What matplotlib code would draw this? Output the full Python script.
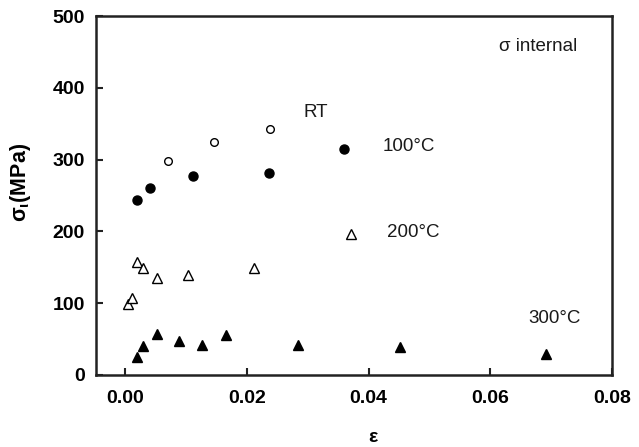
import matplotlib
matplotlib.use("Agg")
import matplotlib.pyplot as plt
from matplotlib import font_manager

names = {f.name for f in font_manager.fontManager.ttflist}
tick_font = 'Liberation Sans Narrow' if 'Liberation Sans Narrow' in names else 'Liberation Sans'
text_font = 'Liberation Sans'

# Data
rt_eps = [0.0071, 0.0146, 0.0238]
rt_sig = [298, 324, 343]

c100_eps = [0.0019, 0.0041, 0.0112, 0.0237, 0.0360]
c100_sig = [244, 261, 277, 282, 315]

c200_eps = [0.0004, 0.0011, 0.0020, 0.0030, 0.0052, 0.0103, 0.0212, 0.0371]
c200_sig = [99, 107, 158, 149, 135, 139, 149, 197]

c300_eps = [0.0019, 0.0030, 0.0052, 0.0088, 0.0126, 0.0165, 0.0284, 0.0452, 0.0692]
c300_sig = [25, 41, 57, 48, 42, 56, 42, 39, 29]

labels = ["RT", "100°C", "200°C", "300°C"]
xticks = [0.00, 0.02, 0.04, 0.06, 0.08]
yticks = [0, 100, 200, 300, 400, 500]

fig = plt.figure(figsize=(6.39, 4.47), dpi=100)
ax = fig.add_axes([0.1502, 0.1611, 0.8075, 0.8031])

ax.plot(rt_eps, rt_sig, 'o', ms=5.5, mfc='white', mec='black', mew=1.0, ls='none')
ax.plot(c100_eps, c100_sig, 'o', ms=6.5, mfc='black', mec='black', ls='none')
ax.plot(c200_eps, c200_sig, '^', ms=7, mfc='white', mec='black', mew=1.0, ls='none')
ax.plot(c300_eps, c300_sig, '^', ms=7.5, mfc='black', mec='black', ls='none')

ax.set_xlim(-0.0048, 0.08)
ax.set_ylim(0, 500)
ax.set_xticks(xticks)
ax.set_yticks(yticks)
ax.set_xticklabels([f"{v:.2f}" for v in xticks])
ax.set_yticklabels([str(v) for v in yticks])

ax.tick_params(direction='in', length=5, width=1.5, colors='#222222', pad=8)
ax.tick_params(axis='x', pad=11)
for lab in ax.get_xticklabels() + ax.get_yticklabels():
    lab.set_fontfamily(tick_font)
    lab.set_fontweight('bold')
    lab.set_fontsize(14)
    lab.set_color('black')
for s in ax.spines.values():
    s.set_linewidth(1.8)
    s.set_color('#222222')

ax.set_xlabel('ε', fontsize=14, fontweight='bold', family=text_font)
ax.xaxis.set_label_coords(0.536, -0.15)
ax.set_ylabel(r'$\mathregular{σ_{ι}}$(MPa)', fontsize=15.5, fontweight='bold', family=text_font)
ax.yaxis.set_label_coords(-0.122, 0.535)

tkw = dict(fontsize=13.5, family=text_font, color='#1a1a1a', va='center', ha='center')
ax.text(0.0314, 366, labels[0], **tkw)
ax.text(0.0466, 318, labels[1], **tkw)
ax.text(0.0473, 199, labels[2], **tkw)
ax.text(0.0705, 79, labels[3], **tkw)
ax.text(0.0678, 457, 'σ internal', **tkw)

fig.savefig('out.png', dpi=100)
